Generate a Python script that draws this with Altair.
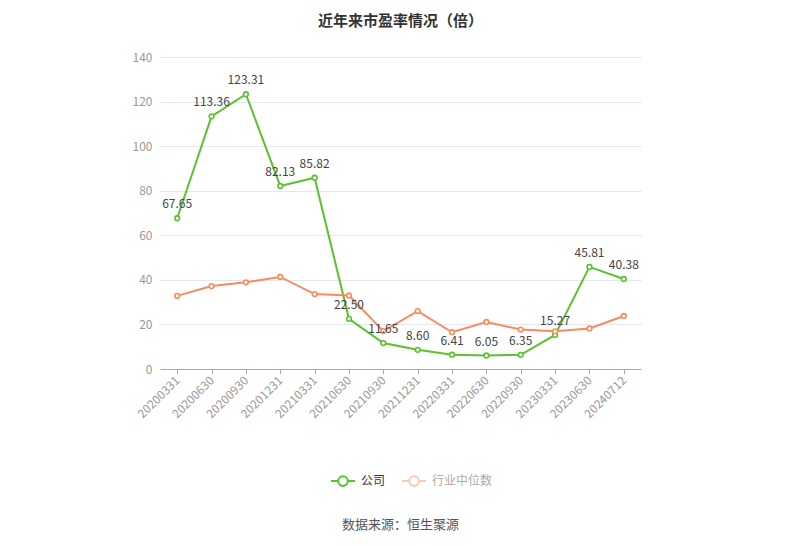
import altair as alt
import pandas as pd

dates = ["20200331", "20200630", "20200930", "20201231", "20210331", "20210630",
         "20210930", "20211231", "20220331", "20220630", "20220930", "20230331",
         "20230630", "20240712"]
company = [67.65, 113.36, 123.31, 82.13, 85.82, 22.50, 11.65, 8.60, 6.41, 6.05,
           6.35, 15.27, 45.81, 40.38]
industry = [32.8, 37.2, 38.9, 41.3, 33.6, 33.0, 17.0, 26.0, 16.5, 21.1, 17.7,
            16.9, 18.2, 23.8]
series_names = ["公司", "行业中位数"]
colors = ["#5ac22c", "#f88b5d"]
y_ticks = [0, 20, 40, 60, 80, 100, 120, 140]
source_text = "数据来源：恒生聚源"
title_text = "近年来市盈率情况（倍）"

FONT = "Noto Sans CJK SC"

rows = []
for d, c, i in zip(dates, company, industry):
    rows.append({"date": d, "series": series_names[0], "value": c})
    rows.append({"date": d, "series": series_names[1], "value": i})
df = pd.DataFrame(rows)
df["label"] = df["value"].map(lambda v: f"{v:.2f}")

legend_path = ("M-1,0 L-0.42,0 M0.42,0 L1,0 "
               "M0.4,0 A0.4,0.4 0 1,1 -0.4,0 A0.4,0.4 0 1,1 0.4,0 Z")

x_scale = alt.Scale(type="point", padding=0.5)
y_scale = alt.Scale(domain=[0, 140], nice=False)

x_enc = alt.X("date:N", sort=dates, scale=x_scale,
              axis=alt.Axis(title=None, labelAngle=-45, labelAlign="right",
                            labelBaseline="middle", labelPadding=4,
                            labelColor="#999999", labelFontSize=12, labelFont=FONT,
                            domainColor="#aaaaaa", tickColor="#aaaaaa", tickSize=5,
                            grid=False))
y_enc = alt.Y("value:Q", scale=y_scale,
              axis=alt.Axis(title=None, values=y_ticks, labelColor="#999999",
                            labelFontSize=12, labelFont=FONT, labelPadding=8,
                            domain=False, ticks=False, gridColor="#e3e7f1"))
color_enc = alt.Color("series:N", sort=series_names,
                      scale=alt.Scale(domain=series_names, range=colors),
                      legend=alt.Legend(title=None, orient="none", direction="horizontal",
                                        legendX=170, legendY=411,
                                        symbolType=legend_path, symbolSize=576,
                                        symbolStrokeWidth=2, symbolFillColor="white",
                                        symbolOpacity=alt.ExprRef(expr="datum.value == '公司' ? 1 : 0.45"),
                                        labelColor=alt.ExprRef(expr="datum.value == '公司' ? '#333333' : '#aaaaaa'"),
                                        labelFont=FONT, labelFontSize=12,
                                        columnPadding=12, labelOffset=5))

base = alt.Chart(df).encode(x=x_enc, y=y_enc, color=color_enc)

lines = base.mark_line(strokeWidth=2)
points = base.mark_point(filled=False, fill="white", fillOpacity=1, size=22,
                         strokeWidth=1.6, opacity=1)
labels = alt.Chart(df).transform_filter(
    alt.datum.series == series_names[0]
).mark_text(dy=-14, fontSize=12, font=FONT, color="#444444").encode(
    x=alt.X("date:N", sort=dates, scale=x_scale),
    y=alt.Y("value:Q", scale=y_scale),
    text="label:N",
)

src = alt.Chart(pd.DataFrame({"t": [source_text]})).mark_text(
    fontSize=13, font=FONT, color="#555555", align="center", baseline="middle"
).encode(x=alt.value(240.5), y=alt.value(468), text="t:N")

chart = alt.layer(lines, points, labels, src).properties(
    width=481, height=312,
    background="white",
    title=alt.TitleParams(title_text, font=FONT, fontSize=15, fontWeight="bold",
                          color="#333333", anchor="middle", offset=22),
    autosize=alt.AutoSizeParams(type="pad"),
    padding={"left": 124, "top": 6, "right": 10, "bottom": 10},
).configure_view(stroke=None)

chart.save("out.html", embed_options={"renderer": "svg", "actions": False})
